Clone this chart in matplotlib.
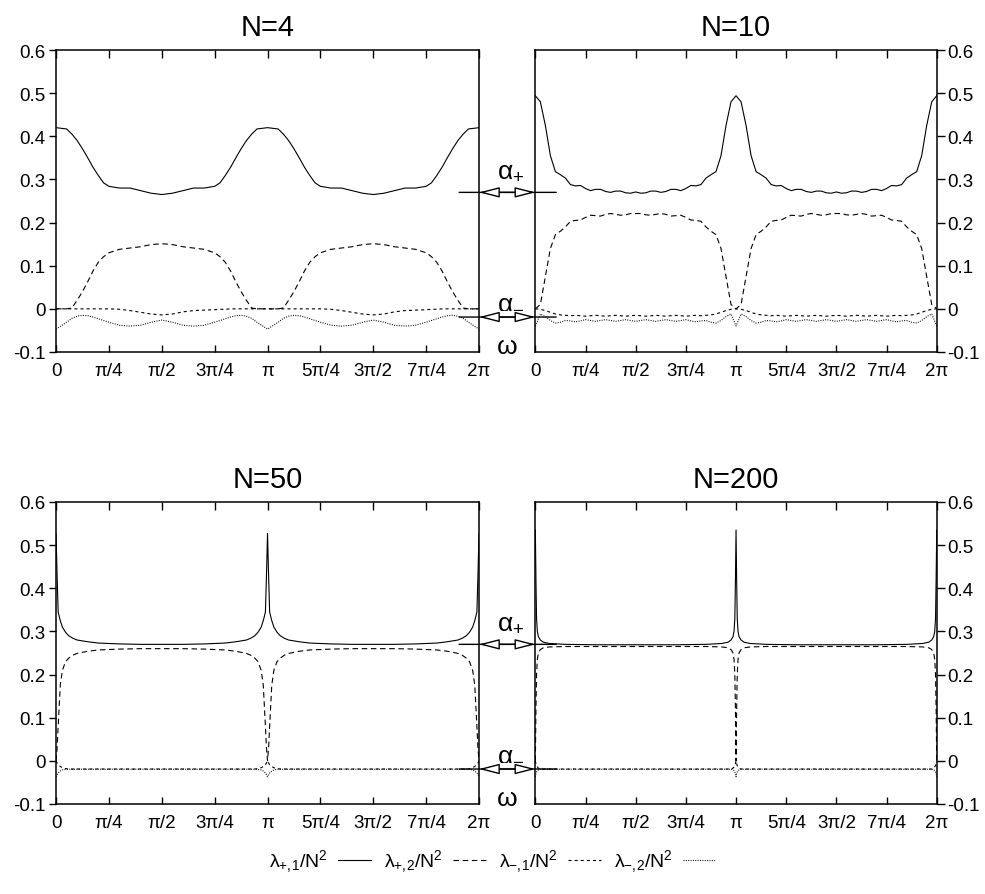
import numpy as np
import matplotlib
matplotlib.use('Agg')
import matplotlib.pyplot as plt
from matplotlib import transforms
from matplotlib.patches import ConnectionPatch

plt.rcParams['font.family'] = ['Liberation Sans', 'DejaVu Sans']
plt.rcParams['mathtext.fontset'] = 'custom'
plt.rcParams['mathtext.rm'] = 'Liberation Sans'
plt.rcParams['mathtext.it'] = 'Liberation Sans:italic'
plt.rcParams['mathtext.bf'] = 'Liberation Sans:bold'
plt.rcParams['axes.unicode_minus'] = False
plt.rcParams['lines.scale_dashes'] = False

# Curves repeat with period pi, so values are read for theta in [0, pi] (units of pi)
# --- N=4 ---
x4 = [0, 0.05, 0.075, 0.1, 0.125, 0.15, 0.175, 0.2, 0.225, 0.25, 0.3, 0.35, 0.4, 0.45, 0.5,
      0.55, 0.6, 0.65, 0.7, 0.75, 0.775, 0.8, 0.825, 0.85, 0.875, 0.9, 0.925, 0.95, 1.0]
lp1_4 = [0.42, 0.417, 0.405, 0.39, 0.371, 0.35, 0.328, 0.309, 0.292, 0.284, 0.28, 0.28, 0.274, 0.268, 0.265,
         0.268, 0.274, 0.28, 0.28, 0.284, 0.292, 0.309, 0.328, 0.35, 0.371, 0.39, 0.405, 0.417, 0.42]
lp2_4 = [0, 0, 0.002, 0.02, 0.04, 0.063, 0.088, 0.108, 0.121, 0.13, 0.138, 0.141, 0.144, 0.149, 0.151,
         0.149, 0.144, 0.141, 0.138, 0.13, 0.121, 0.108, 0.088, 0.063, 0.04, 0.02, 0.002, 0, 0]
lm1_4 = [0, 0, 0, 0, 0, 0, 0, 0, 0, 0, -0.001, -0.004, -0.008, -0.012, -0.014,
         -0.012, -0.007, -0.004, -0.003, -0.002, -0.001, -0.001, 0, 0, 0, 0, 0, 0, 0]
lm2_4 = [-0.047, -0.031, -0.022, -0.017, -0.015, -0.016, -0.019, -0.023, -0.027, -0.031, -0.038, -0.040, -0.038, -0.031, -0.026,
         -0.031, -0.038, -0.040, -0.038, -0.031, -0.027, -0.023, -0.019, -0.016, -0.015, -0.017, -0.022, -0.031, -0.047]

# --- N=10 ---
x10 = [0, 0.025, 0.05, 0.075, 0.1, 0.125, 0.15, 0.175, 0.2, 0.225, 0.25, 0.275, 0.3, 0.325, 0.35, 0.375, 0.4,
       0.425, 0.45, 0.475, 0.5, 0.525, 0.55, 0.575, 0.6, 0.625, 0.65, 0.675, 0.7, 0.725, 0.75, 0.775, 0.8,
       0.825, 0.85, 0.875, 0.9, 0.925, 0.95, 0.975, 1.0]
lp1_10 = [0.494, 0.480, 0.425, 0.355, 0.318, 0.311, 0.303, 0.288, 0.285, 0.286, 0.279, 0.274, 0.277, 0.277, 0.272, 0.270, 0.273,
          0.273, 0.269, 0.268, 0.271, 0.268, 0.269, 0.273, 0.273, 0.270, 0.272, 0.277, 0.277, 0.274, 0.279, 0.286, 0.285,
          0.288, 0.303, 0.311, 0.318, 0.355, 0.425, 0.480, 0.494]
lp2_10 = [0.0, 0.010, 0.075, 0.140, 0.172, 0.180, 0.190, 0.203, 0.205, 0.206, 0.212, 0.217, 0.216, 0.215, 0.219, 0.221, 0.219,
          0.217, 0.218, 0.221, 0.221, 0.221, 0.218, 0.217, 0.219, 0.221, 0.219, 0.215, 0.216, 0.217, 0.212, 0.206, 0.205,
          0.203, 0.190, 0.180, 0.172, 0.140, 0.075, 0.010, 0.0]
lm1_10 = [0.0, -0.001, -0.004, -0.008, -0.012, -0.014, -0.015, -0.016, -0.015, -0.016, -0.017, -0.016, -0.015, -0.016, -0.017, -0.016, -0.015,
          -0.016, -0.017, -0.016, -0.015, -0.016, -0.017, -0.016, -0.015, -0.016, -0.017, -0.016, -0.015, -0.016, -0.017, -0.016, -0.015,
          -0.016, -0.015, -0.014, -0.012, -0.008, -0.004, -0.001, 0.0]
lm2_10 = [-0.040, -0.012, -0.018, -0.027, -0.033, -0.031, -0.027, -0.028, -0.030, -0.028, -0.025, -0.027, -0.029, -0.027, -0.025, -0.027, -0.029,
          -0.027, -0.025, -0.027, -0.029, -0.027, -0.025, -0.027, -0.029, -0.027, -0.025, -0.027, -0.029, -0.027, -0.025, -0.028, -0.030,
          -0.028, -0.027, -0.031, -0.033, -0.027, -0.018, -0.012, -0.040]

# --- N=50 ---
x50 = [0, 0.005, 0.01, 0.02, 0.03, 0.045, 0.06, 0.08, 0.1, 0.15, 0.2, 0.3, 0.4, 0.5,
       0.6, 0.7, 0.8, 0.85, 0.9, 0.92, 0.94, 0.955, 0.97, 0.98, 0.99, 0.995, 1.0]
lp1_50 = [0.527, 0.43, 0.345, 0.325, 0.31, 0.298, 0.290, 0.284, 0.280, 0.276, 0.273, 0.271, 0.270, 0.270,
          0.270, 0.271, 0.273, 0.276, 0.280, 0.284, 0.290, 0.298, 0.31, 0.325, 0.345, 0.43, 0.527]
lp2_50 = [0.0, 0.03, 0.08, 0.175, 0.21, 0.23, 0.238, 0.245, 0.249, 0.254, 0.257, 0.259, 0.26, 0.26,
          0.26, 0.259, 0.257, 0.254, 0.249, 0.245, 0.238, 0.23, 0.21, 0.175, 0.08, 0.03, 0.0]
lm1_50 = [0.0, -0.005, -0.009, -0.013, -0.016, -0.018, -0.019, -0.019, -0.019, -0.019, -0.019, -0.019, -0.019, -0.019,
          -0.019, -0.019, -0.019, -0.019, -0.019, -0.019, -0.019, -0.018, -0.016, -0.013, -0.009, -0.005, 0.0]
lm2_50 = [-0.037, -0.032, -0.028, -0.024, -0.021, -0.020, -0.0195, -0.0195, -0.0195, -0.0195, -0.0195, -0.0195, -0.0195, -0.0195,
          -0.0195, -0.0195, -0.0195, -0.0195, -0.0195, -0.0195, -0.0195, -0.020, -0.021, -0.024, -0.028, -0.032, -0.037]

# --- N=200 ---
x200 = [0, 0.003, 0.006, 0.01, 0.015, 0.025, 0.04, 0.07, 0.15, 0.3, 0.5,
        0.7, 0.85, 0.93, 0.96, 0.975, 0.985, 0.99, 0.994, 0.997, 1.0]
lp1_200 = [0.535, 0.42, 0.33, 0.30, 0.288, 0.28, 0.275, 0.272, 0.27, 0.269, 0.269,
           0.269, 0.27, 0.272, 0.275, 0.28, 0.288, 0.30, 0.33, 0.42, 0.535]
lp2_200 = [0.0, 0.12, 0.2, 0.235, 0.25, 0.258, 0.262, 0.264, 0.265, 0.265, 0.265,
           0.265, 0.265, 0.264, 0.262, 0.258, 0.25, 0.235, 0.2, 0.12, 0.0]
lm1_200 = [0.0, -0.007, -0.011, -0.014, -0.017, -0.019, -0.019, -0.019, -0.019, -0.019, -0.019,
           -0.019, -0.019, -0.019, -0.019, -0.019, -0.017, -0.014, -0.011, -0.007, 0.0]
lm2_200 = [-0.037, -0.030, -0.026, -0.023, -0.021, -0.0195, -0.0195, -0.0195, -0.0195, -0.0195, -0.0195,
           -0.0195, -0.0195, -0.0195, -0.0195, -0.0195, -0.021, -0.023, -0.026, -0.030, -0.037]

panels = {
    4: (x4, [lp1_4, lp2_4, lm1_4, lm2_4]),
    10: (x10, [lp1_10, lp2_10, lm1_10, lm2_10]),
    50: (x50, [lp1_50, lp2_50, lm1_50, lm2_50]),
    200: (x200, [lp1_200, lp2_200, lm1_200, lm2_200]),
}

series_labels = [r'$\mathrm{λ}_{+,\!1}/\mathrm{N}^{2}$', r'$\mathrm{λ}_{+,\!2}/\mathrm{N}^{2}$',
                 r'$\mathrm{λ}_{-,\!1}/\mathrm{N}^{2}$', r'$\mathrm{λ}_{-,\!2}/\mathrm{N}^{2}$']
series_dashes = [None, (4.0, 2.6), (2.2, 2.2), (0.7, 1.0)]

alpha_plus = 0.27
alpha_minus = -0.019

xtick_labels = ['0', 'π/4', 'π/2', '3π/4', 'π', '5π/4', '3π/2', '7π/4', '2π']
ytick_vals = [-0.1, 0, 0.1, 0.2, 0.3, 0.4, 0.5, 0.6]
ytick_labels = ['-0.1', '0', '0.1', '0.2', '0.3', '0.4', '0.5', '0.6']

fig = plt.figure(figsize=(9.85, 8.95), dpi=100)

# axes rectangles (figure fractions)
positions = {
    4: [0.0569, 0.6056, 0.4294, 0.3374],
    10: [0.5435, 0.6056, 0.4075, 0.3374],
    50: [0.0569, 0.1006, 0.4294, 0.3374],
    200: [0.5435, 0.1006, 0.4075, 0.3374],
}

axes = {}
for n, (xs, ys_list) in panels.items():
    ax = fig.add_axes(positions[n])
    xs = np.asarray(xs)
    xfull = np.concatenate([xs, 1 + xs[1:]]) * np.pi
    for ys, lab, dsh in zip(ys_list, series_labels, series_dashes):
        yfull = np.concatenate([ys, ys[1:]])
        if dsh is None:
            ax.plot(xfull, yfull, color='black', lw=0.8, label=lab)
        else:
            ax.plot(xfull, yfull, color='black', lw=0.8, dashes=dsh, label=lab)
    ax.set_xlim(0, 2 * np.pi)
    ax.set_ylim(-0.1, 0.6)
    ax.set_xticks(np.arange(9) * np.pi / 4)
    ax.set_xticklabels(xtick_labels)
    ax.set_yticks(ytick_vals)
    ax.set_yticklabels(ytick_labels)
    ax.tick_params(axis='x', direction='in', top=True, length=5.4, width=1.0, pad=7, labelsize=13.5)
    right_side = n in (10, 200)
    ax.tick_params(axis='y', direction='out', length=5.4, width=1.0, pad=2, labelsize=13.5,
                   left=not right_side, labelleft=not right_side,
                   right=right_side, labelright=right_side)
    for sp in ax.spines.values():
        sp.set_linewidth(1.1)
    ax.set_title(f'N={n}', fontsize=21, pad=11)
    axes[n] = ax


def alpha_marks(axL, axR):
    bl = transforms.blended_transform_factory(axL.transAxes, axL.transData)
    br = transforms.blended_transform_factory(axR.transAxes, axR.transData)
    for a, txt, dy in [(alpha_plus, r'$\mathrm{α}_{+}$', 11), (alpha_minus, r'$\mathrm{α}_{-}$', 7.5)]:
        line = ConnectionPatch(xyA=(0.953, a), coordsA=bl, xyB=(0.052, a), coordsB=br,
                               arrowstyle='-', lw=1.0, color='black')
        fig.add_artist(line)
        arr = ConnectionPatch(xyA=(1.0, a), coordsA=bl, xyB=(0.0, a), coordsB=br,
                              arrowstyle='<|-|>,head_length=1.25,head_width=0.32',
                              mutation_scale=10, shrinkA=0, shrinkB=0,
                              fc='white', ec='black', lw=1.0, zorder=5)
        fig.add_artist(arr)
        axL.annotate(txt, xy=(1.0, a), xycoords=bl, xytext=(23, dy), textcoords='offset points',
                     ha='center', va='baseline', fontsize=19, annotation_clip=False)
    axL.annotate('ω', xy=(1.0, -0.1), xycoords=bl, xytext=(20, -1), textcoords='offset points',
                 ha='center', va='baseline', fontsize=19, annotation_clip=False)


alpha_marks(axes[4], axes[10])
alpha_marks(axes[50], axes[200])

handles, labels = axes[4].get_legend_handles_labels()
fig.legend(handles, labels, loc='center', bbox_to_anchor=(0.5, 0.037), ncol=4, frameon=False,
           markerfirst=False, fontsize=14, handlelength=1.7, handletextpad=0.5, columnspacing=0.7)

fig.savefig('out.png', dpi=100)
